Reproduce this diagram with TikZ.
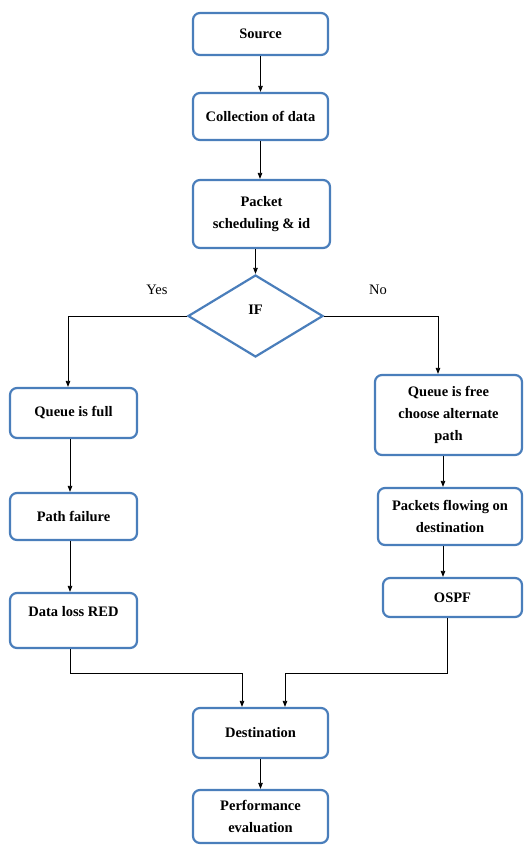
\documentclass[tikz,border=0pt]{standalone}
\usepackage{fontspec}
\setmainfont{Liberation Serif}[BoldFont={Liberation Serif Bold}]
\newfontfamily\tnr{Liberation Serif}
\usetikzlibrary{shapes.geometric,arrows.meta}
\definecolor{boxblue}{RGB}{74,126,187}
\tikzset{
  box/.style={draw=boxblue, line width=2.2pt, rounded corners=7pt, fill=white,
    align=center, inner sep=2pt, font=\tnr\fontsize{14.5}{21.7}\selectfont\bfseries},
  decision/.style={draw=boxblue, line width=2.2pt, diamond, inner sep=0pt},
  conn/.style={draw=black, line width=0.8pt},
  arr/.style={conn, -{Triangle[length=6pt,width=4.5pt]}},
  lbl/.style={font=\tnr\fontsize{14.5}{17}\selectfont}
}
\begin{document}
\begin{tikzpicture}[x=1pt,y=-1pt]
\useasboundingbox (0,0) rectangle (528,846);
\node[box, minimum width=135pt, minimum height=42pt] (src) at (260.5,34) {Source};
\node[box, minimum width=135pt, minimum height=47pt] (col) at (260.5,116.5) {Collection of data};
\node[box, minimum width=137pt, minimum height=68pt] (pkt) at (261.5,214) {Packet\\scheduling \& id};
\node[decision, minimum width=135pt, minimum height=82pt] (if) at (255.5,316) {};
\node[font=\tnr\fontsize{14.5}{21.7}\selectfont\bfseries] (iftxt) at (255.5,310) {IF};
\node[box, minimum width=127pt, minimum height=50pt] (qfull) at (73.5,413) {Queue is full};
\node[box, minimum width=147pt, minimum height=80pt] (qfree) at (448.5,415) {Queue is free\\choose alternate\\path};
\node[box, minimum width=127pt, minimum height=47pt] (pfail) at (73.5,516.5) {Path failure};
\node[box, minimum width=127pt, minimum height=55pt] (dloss) at (73.5,620.5) {Data loss RED\\[-4pt]\mbox{}};
\node[box, minimum width=144pt, minimum height=57pt] (pflow) at (450,516.5) {Packets flowing on\\destination};
\node[box, minimum width=139pt, minimum height=39pt] (ospf) at (452.5,597.5) {OSPF};
\node[box, minimum width=135pt, minimum height=50pt] (dest) at (260.5,733) {Destination};
\node[box, minimum width=135pt, minimum height=53pt] (perf) at (260.5,816.5) {Performance\\evaluation};
\node[lbl] (yes) at (157,290) {Yes};
\node[lbl] (no) at (378,290) {No};
\coordinate (lj) at (70,673);
\coordinate (rj) at (447,673);
\draw[arr] (src) -- (col);
\draw[arr] ([xshift=-0.5pt]col.south) -- ([xshift=-1.5pt]pkt.north);
\draw[arr] (if.north |- pkt.south) -- (if.north);
\draw[arr] (if.west) -| ([xshift=-5.5pt]qfull.north);
\draw[arr] (if.east) -| ([xshift=-10.5pt]qfree.north);
\draw[arr] ([xshift=-3.5pt]qfull.south) -- ([xshift=-3.5pt]pfail.north);
\draw[arr] ([xshift=-3.5pt]pfail.south) -- ([xshift=-3.5pt]dloss.north);
\draw[arr] ([xshift=-5.5pt]qfree.south) -- ([xshift=-5.5pt]qfree.south |- pflow.north);
\draw[arr] ([xshift=-7pt]pflow.south) -- ([xshift=-7pt]pflow.south |- ospf.north);
\draw[arr] (lj |- dloss.south) -- (lj) -| ([xshift=-18.5pt]dest.north);
\draw[arr] (rj |- ospf.south) -- (rj) -| ([xshift=24.5pt]dest.north);
\draw[arr] (dest) -- (perf);
\end{tikzpicture}
\end{document}
